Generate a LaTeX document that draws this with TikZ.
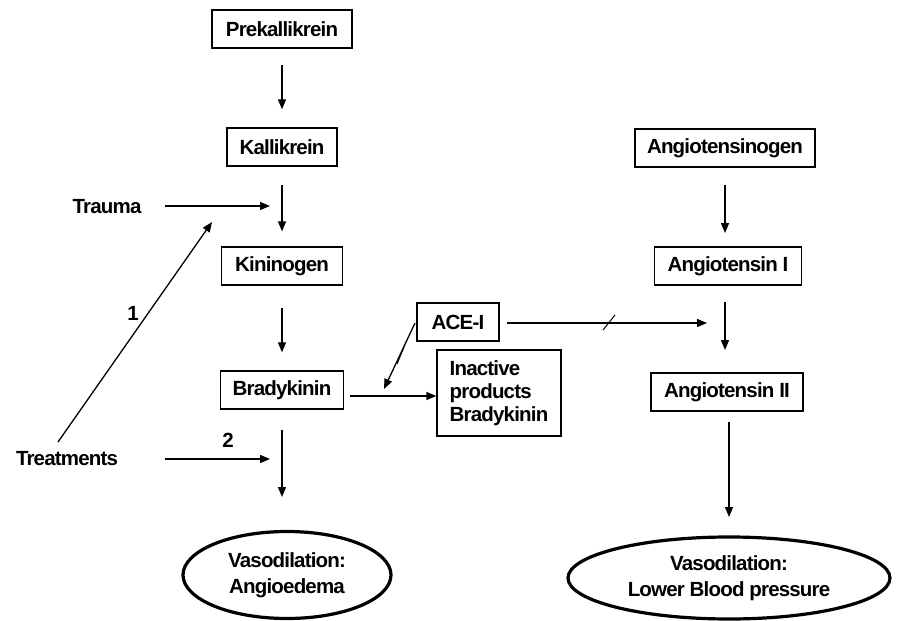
\documentclass[tikz,border=0pt]{standalone}
\usepackage{fontspec}
\setmainfont{Liberation Sans}[LetterSpace=-4]
\usetikzlibrary{arrows.meta,shapes.geometric,calc}
\begin{document}
\begin{tikzpicture}[x=1pt,y=-1pt,
  font=\fontsize{20.5}{23}\selectfont\bfseries,
  box/.style={draw,line width=1.3pt,minimum height=38pt,inner sep=0pt},
  oval/.style={draw,ellipse,line width=3.2pt,inner sep=0pt,align=center,
    font=\fontsize{20.5}{26}\selectfont\bfseries},
  lbl/.style={inner sep=0pt},
  arr/.style={line width=1.3pt,-{Triangle[length=10pt,width=8pt]}},
  tick/.style={line width=1pt}]
\useasboundingbox (0,0) rectangle (898,621);

% left chain
\node[box,minimum width=140pt] (pre) at (282,29) {Prekallikrein};
\node[box,minimum width=110pt] (kal) at (282,147) {Kallikrein};
\node[box,minimum width=121pt] (kin) at (282,266) {Kininogen};
\node[box,minimum width=123pt] (bra) at (282,390) {Bradykinin};
\node[oval,minimum width=208pt,minimum height=87pt] (angio) at (287,575) {Vasodilation:\\Angioedema};

% middle
\node[box,minimum width=82pt] (ace) at (458,322) {ACE-I};
\node[box,minimum width=124pt,minimum height=86pt,align=left] (ina) at (499,393) {Inactive\\products\\Bradykinin};

% right chain
\node[box,minimum width=180pt] (agn) at (725,148) {Angiotensinogen};
\node[box,minimum width=147pt] (ag1) at (728,266) {Angiotensin I};
\node[box,minimum width=152pt] (ag2) at (727,392) {Angiotensin II};
\node[oval,minimum width=322pt,minimum height=82pt] (bp) at (729,578) {Vasodilation:\\Lower Blood pressure};

% side labels
\node[lbl] (trauma) at (107,207) {Trauma};
\node[lbl] (treat) at (67,459) {Treatments};
\node[lbl] (one) at (133,313) {1};
\node[lbl] (two) at (228,440) {2};

% coordinates for free ends
\coordinate (tr1) at (165,206);
\coordinate (tr2) at (270,206);
\coordinate (tt1) at (165,459);
\coordinate (tt2) at (270,459);
\coordinate (d1) at (58,442);
\coordinate (d2) at (212,222);
\coordinate (b1) at (282,430);
\coordinate (b2) at (282,497);
\coordinate (a1) at (415,323);
\coordinate (a2) at (384,389);
\coordinate (bi1) at (350,396);
\coordinate (bi2) at (ina.west |- bi1);
\coordinate (ar1) at (507,323);
\coordinate (ar2) at (707,323);
\coordinate (g1) at (729,422);
\coordinate (g2) at (729,517);

% left chain arrows
\draw[arr,shorten <=16pt,shorten >=18pt] (pre) -- (pre |- kal.north);
\draw[arr,shorten <=18pt,shorten >=15pt] (kal) -- (kal |- kin.north);
\draw[arr,shorten <=22pt,shorten >=18pt] (kin) -- (kin |- bra.north);
\draw[arr] (b1) -- (b2);

\draw[arr] (tr1) -- (tr2);
\draw[arr] (tt1) -- (tt2);
\draw[arr] (d1) -- (d2);

% ACE-I
\draw[arr] (a1) -- (a2);
\draw[tick] (397,364) -- (404,347);
\draw[arr] (bi1) -- (bi2);
\draw[arr] (ar1) -- (ar2);
\draw[tick] (603,330) -- (615,315);

% right chain arrows
\draw[arr] (725,185) -- (725,233);
\draw[arr] (725,302) -- (725,350);
\draw[arr] (g1) -- (g2);
\end{tikzpicture}
\end{document}
